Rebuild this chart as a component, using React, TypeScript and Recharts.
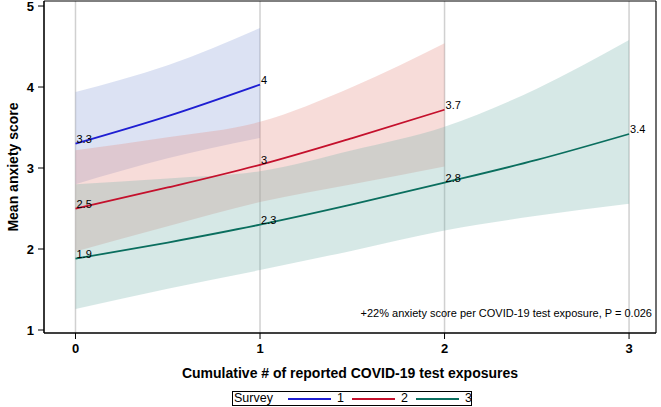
import React from 'react';
import {
  ComposedChart,
  Area,
  Line,
  XAxis,
  YAxis,
  CartesianGrid,
  ReferenceArea,
  LabelList,
  Label,
} from 'recharts';

// x positions (cumulative # of reported COVID-19 test exposures)
const xValues = [0, 0.5, 1, 1.5, 2, 2.5, 3];

// Survey 1
const s1Mean = [3.3, 3.64, 4.03];
const s1Lo = [2.8, 3.12, 3.37];
const s1Hi = [3.94, 4.27, 4.73];

// Survey 2
const s2Mean = [2.5, 2.76, 3.04, 3.37, 3.72];
const s2Lo = [1.97, 2.28, 2.58, 2.8, 3.02];
const s2Hi = [3.22, 3.38, 3.57, 4.0, 4.54];

// Survey 3
const s3Mean = [1.88, 2.08, 2.3, 2.55, 2.82, 3.1, 3.42];
const s3Lo = [1.26, 1.51, 1.74, 1.98, 2.23, 2.41, 2.56];
const s3Hi = [2.8, 2.87, 2.96, 3.22, 3.51, 3.98, 4.58];

const xTicks = [0, 1, 2, 3];
const yTicks = [1, 2, 3, 4, 5];
const surveyNames = ['1', '2', '3'];
const lineColors = ['#1e1ed2', '#c4102c', '#0a6e5e'];
const bandColors = ['#8c9ed6', '#e58a80', '#78b4ad'];

const xTitle = 'Cumulative # of reported COVID-19 test exposures';
const yTitle = 'Mean anxiety score';
const legendTitle = 'Survey';
const annotation = '+22% anxiety score per COVID-19 test exposure, P = 0.026';

const X_DOMAIN: [number, number] = [-0.1707, 3.146];
const Y_DOMAIN: [number, number] = [0.963, 5.062];

const fmt = (v: number) => String(Number(v.toFixed(1)));

const isInt = (x: number) => Math.abs(x - Math.round(x)) < 1e-9;

const data = xValues.map((x, i) => ({
  x,
  m1: s1Mean[i],
  b1: s1Mean[i] !== undefined ? [s1Lo[i], s1Hi[i]] : undefined,
  l1: s1Mean[i] !== undefined && isInt(x) ? fmt(s1Mean[i]) : undefined,
  m2: s2Mean[i],
  b2: s2Mean[i] !== undefined ? [s2Lo[i], s2Hi[i]] : undefined,
  l2: s2Mean[i] !== undefined && isInt(x) ? fmt(s2Mean[i]) : undefined,
  m3: s3Mean[i],
  b3: s3Mean[i] !== undefined ? [s3Lo[i], s3Hi[i]] : undefined,
  l3: s3Mean[i] !== undefined && isInt(x) ? fmt(s3Mean[i]) : undefined,
}));

const FONT = 'Arial, "Liberation Sans", Helvetica, sans-serif';

const renderPointLabel = (props: any) => {
  const { x, y, value } = props;
  if (value === undefined || value === null || value === '') return null;
  return (
    <text x={x + 1} y={y - 1} fontSize={11} fill="#000" fontFamily={FONT}>
      {value}
    </text>
  );
};

export default function App() {
  return (
    <div
      style={{
        position: 'absolute',
        left: 0,
        top: 0,
        width: 661,
        height: 407,
        background: '#fff',
        fontFamily: FONT,
      }}
    >
      <ComposedChart
        width={661}
        height={407}
        data={data}
        margin={{ top: 1, right: 5, left: 0, bottom: 0 }}
      >
        <CartesianGrid horizontal={false} vertical stroke="#d0d0d0" strokeWidth={1.5} />
        <XAxis
          dataKey="x"
          type="number"
          domain={X_DOMAIN}
          ticks={xTicks}
          allowDataOverflow
          interval={0}
          height={74}
          tickSize={6}
          tickMargin={5}
          axisLine={{ stroke: '#000' }}
          tickLine={{ stroke: '#000' }}
          tick={{ fill: '#000', fontSize: 13, fontWeight: 'bold', fontFamily: FONT }}
        >
          <Label
            content={() => (
              <text
                x={350}
                y={378}
                textAnchor="middle"
                fontSize={14}
                fontWeight="bold"
                fill="#000"
                fontFamily={FONT}
              >
                {xTitle}
              </text>
            )}
          />
        </XAxis>
        <YAxis
          type="number"
          domain={Y_DOMAIN}
          ticks={yTicks}
          allowDataOverflow
          interval={0}
          width={44}
          tickSize={6}
          tickMargin={4}
          axisLine={{ stroke: '#000' }}
          tickLine={{ stroke: '#000' }}
          tick={{ fill: '#000', fontSize: 13, fontWeight: 'bold', fontFamily: FONT }}
        >
          <Label
            content={() => (
              <text
                x={13}
                y={167}
                transform="rotate(-90 13 167)"
                textAnchor="middle"
                dominantBaseline="central"
                fontSize={14}
                fontWeight="bold"
                fill="#000"
                fontFamily={FONT}
              >
                {yTitle}
              </text>
            )}
          />
        </YAxis>

        <Area
          dataKey="b1"
          type="monotone"
          stroke="none"
          fill={bandColors[0]}
          fillOpacity={0.3}
          isAnimationActive={false}
          activeDot={false}
        />
        <Area
          dataKey="b2"
          type="monotone"
          stroke="none"
          fill={bandColors[1]}
          fillOpacity={0.3}
          isAnimationActive={false}
          activeDot={false}
        />
        <Area
          dataKey="b3"
          type="monotone"
          stroke="none"
          fill={bandColors[2]}
          fillOpacity={0.3}
          isAnimationActive={false}
          activeDot={false}
        />

        <Line
          dataKey="m1"
          type="monotone"
          stroke={lineColors[0]}
          strokeWidth={1.8}
          dot={false}
          activeDot={false}
          isAnimationActive={false}
        >
          <LabelList dataKey="l1" content={renderPointLabel} />
        </Line>
        <Line
          dataKey="m2"
          type="monotone"
          stroke={lineColors[1]}
          strokeWidth={1.8}
          dot={false}
          activeDot={false}
          isAnimationActive={false}
        >
          <LabelList dataKey="l2" content={renderPointLabel} />
        </Line>
        <Line
          dataKey="m3"
          type="monotone"
          stroke={lineColors[2]}
          strokeWidth={1.8}
          dot={false}
          activeDot={false}
          isAnimationActive={false}
        >
          <LabelList dataKey="l3" content={renderPointLabel} />
        </Line>

        <ReferenceArea
          x1={X_DOMAIN[0]}
          x2={X_DOMAIN[1]}
          y1={Y_DOMAIN[0]}
          y2={Y_DOMAIN[1]}
          fill="none"
          stroke="#000"
          strokeWidth={1}
        />
      </ComposedChart>

      {/* annotation */}
      <div
        style={{
          position: 'absolute',
          right: 9,
          top: 308,
          fontSize: 11,
          lineHeight: '11px',
          whiteSpace: 'nowrap',
          color: '#000',
        }}
      >
        {annotation}
      </div>

      {/* legend */}
      <div
        style={{
          position: 'absolute',
          left: 232,
          top: 391,
          width: 240,
          height: 15,
          boxSizing: 'border-box',
          border: '1px solid #000',
          fontSize: 12.5,
          color: '#000',
        }}
      >
        <span style={{ position: 'absolute', left: 1, top: 0, lineHeight: '13px' }}>
          {legendTitle}
        </span>
        {surveyNames.map((name, i) => (
          <React.Fragment key={name}>
            <span
              style={{
                position: 'absolute',
                left: 55 + i * 64,
                top: 6,
                width: 43,
                height: 2,
                background: lineColors[i],
              }}
            />
            <span
              style={{ position: 'absolute', left: 104 + i * 64, top: 0, lineHeight: '13px' }}
            >
              {name}
            </span>
          </React.Fragment>
        ))}
      </div>
    </div>
  );
}
